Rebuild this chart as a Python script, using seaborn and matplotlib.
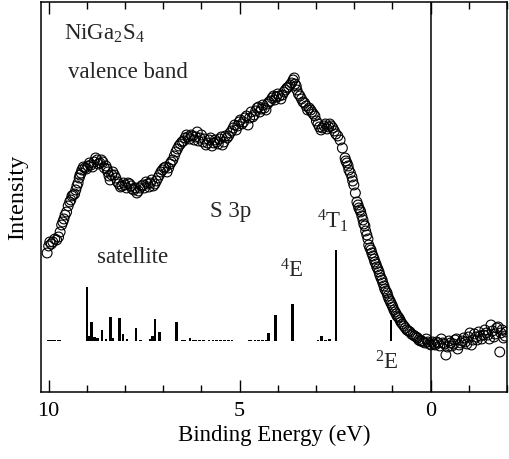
import numpy as np
import pandas as pd
import matplotlib
matplotlib.use("Agg")
import matplotlib.pyplot as plt
from matplotlib.ticker import MultipleLocator
import seaborn as sns

# measured valence band spectrum (binding energy in eV, intensity in arb. units)
energy = [10.04, 9.97, 9.89, 9.79, 9.70, 9.63, 9.57, 9.49, 9.42, 9.36, 9.29, 9.23,
          9.18, 9.13, 9.05, 8.97, 8.89, 8.81, 8.73, 8.66, 8.58, 8.50, 8.45, 8.39,
          8.32, 8.24, 8.16, 8.08, 8.00, 7.92, 7.84, 7.77, 7.69, 7.61, 7.53, 7.45,
          7.37, 7.30, 7.22, 7.14, 7.06, 6.98, 6.90, 6.82, 6.75, 6.67, 6.59, 6.51,
          6.43, 6.35, 6.27, 6.19, 6.11, 6.04, 5.96, 5.88, 5.80, 5.72, 5.64, 5.56,
          5.48, 5.41, 5.33, 5.25, 5.17, 5.09, 5.01, 4.94, 4.86, 4.78, 4.70, 4.62,
          4.54, 4.47, 4.39, 4.31, 4.23, 4.15, 4.08, 4.00, 3.92, 3.84, 3.76, 3.68,
          3.60, 3.55, 3.50, 3.42, 3.34, 3.26, 3.18, 3.11, 3.03, 2.95, 2.87, 2.79,
          2.71, 2.64, 2.56, 2.48, 2.37, 2.24, 2.19, 2.14, 2.06, 2.01, 1.93, 1.88,
          1.83, 1.77, 1.72, 1.67, 1.62, 1.56, 1.51, 1.46, 1.41, 1.35, 1.30, 1.25,
          1.20, 1.14, 1.09, 1.04, 0.99, 0.93, 0.88, 0.83, 0.78, 0.70, 0.62, 0.54,
          0.46, 0.38, 0.31, 0.23, 0.15, 0.07, -0.01, -0.09, -0.16, -0.24, -0.32, -0.40,
          -0.48, -0.56, -0.64, -0.71, -0.79, -0.87, -0.95, -1.03, -1.11, -1.19, -1.26, -1.34,
          -1.42, -1.50, -1.58, -1.66, -1.73, -1.81, -1.87, -1.95]
intensity = [0.88, 0.99, 0.99, 1.01, 1.09, 1.19, 1.26, 1.35, 1.41, 1.46, 1.51, 1.58,
             1.66, 1.71, 1.73, 1.75, 1.76, 1.79, 1.81, 1.78, 1.79, 1.75, 1.69, 1.61,
             1.69, 1.63, 1.57, 1.55, 1.56, 1.58, 1.55, 1.51, 1.48, 1.53, 1.56, 1.59,
             1.54, 1.61, 1.57, 1.63, 1.69, 1.73, 1.69, 1.77, 1.81, 1.89, 1.95, 1.99,
             2.03, 2.04, 2.06, 2.01, 2.09, 2.03, 1.99, 1.96, 2.01, 1.95, 2.01, 1.97,
             2.04, 1.99, 2.03, 2.08, 2.13, 2.11, 2.19, 2.17, 2.23, 2.16, 2.29, 2.26,
             2.33, 2.29, 2.36, 2.31, 2.39, 2.43, 2.41, 2.47, 2.42, 2.49, 2.53, 2.56,
             2.61, 2.57, 2.51, 2.45, 2.39, 2.35, 2.33, 2.29, 2.25, 2.17, 2.11, 2.15,
             2.12, 2.17, 2.13, 2.07, 2.01, 1.83, 1.78, 1.71, 1.64, 1.56, 1.39, 1.33,
             1.29, 1.21, 1.15, 1.06, 0.96, 0.91, 0.85, 0.79, 0.74, 0.69, 0.63, 0.58,
             0.52, 0.48, 0.42, 0.38, 0.34, 0.29, 0.25, 0.23, 0.19, 0.15, 0.11, 0.09,
             0.06, 0.04, 0.01, 0.00, -0.02, -0.01, -0.04, -0.03, -0.01, -0.05, -0.02, -0.14,
             0.00, -0.05, 0.01, -0.08, -0.02, 0.03, -0.03, 0.08, 0.01, 0.04, 0.09, 0.02,
             0.11, 0.06, 0.16, 0.04, 0.13, -0.11, 0.11, 0.05]

# second sweep, points lying between the first ones
energy_b = [10.00, 9.93, 9.84, 9.74, 9.66, 9.60, 9.53, 9.45, 9.39, 9.32, 9.26, 9.20,
            9.15, 9.09, 9.01, 8.93, 8.85, 8.77, 8.70, 8.62, 8.54, 8.47, 8.42, 8.35,
            8.28, 8.20, 8.12, 8.04, 7.96, 7.88, 7.81, 7.73, 7.65, 7.57, 7.49, 7.41,
            7.34, 7.26, 7.18, 7.10, 7.02, 6.94, 6.86, 6.79, 6.71, 6.63, 6.55, 6.47,
            6.39, 6.31, 6.23, 6.15, 6.08, 6.00, 5.92, 5.84, 5.76, 5.68, 5.60, 5.52,
            5.45, 5.37, 5.29, 5.21, 5.13, 5.05, 4.98, 4.90, 4.82, 4.74, 4.66, 4.58,
            4.50, 4.43, 4.35, 4.27, 4.19, 4.11, 4.04, 3.96, 3.88, 3.80, 3.72, 3.64,
            3.57, 3.52, 3.46, 3.38, 3.30, 3.22, 3.14, 3.07, 2.99, 2.91, 2.83, 2.75,
            2.67, 2.60, 2.52, 2.43, 2.31, 2.22, 2.16, 2.10, 2.04, 1.97, 1.90, 1.85,
            1.80, 1.75, 1.70, 1.64, 1.59, 1.54, 1.48, 1.43, 1.38, 1.33, 1.27, 1.22,
            1.17, 1.12, 1.06, 1.01, 0.96, 0.90, 0.85, 0.80, 0.74, 0.66, 0.58, 0.50,
            0.42, 0.34, 0.27, 0.19, 0.11, 0.03, -0.05, -0.12, -0.20, -0.28, -0.36, -0.44,
            -0.52, -0.60, -0.68, -0.75, -0.83, -0.91, -0.99, -1.07, -1.15, -1.22, -1.30, -1.38,
            -1.46, -1.54, -1.62, -1.69, -1.77, -1.84, -1.91, -1.98]
intensity_b = [0.95, 0.97, 1.02, 1.04, 1.16, 1.22, 1.29, 1.39, 1.45, 1.47, 1.55, 1.63,
               1.68, 1.74, 1.72, 1.78, 1.74, 1.83, 1.77, 1.81, 1.73, 1.72, 1.65, 1.66,
               1.66, 1.59, 1.54, 1.58, 1.53, 1.57, 1.52, 1.53, 1.50, 1.55, 1.53, 1.57,
               1.58, 1.55, 1.60, 1.66, 1.71, 1.74, 1.73, 1.79, 1.85, 1.92, 1.97, 2.00,
               2.06, 2.02, 2.05, 2.04, 2.00, 2.06, 2.02, 1.98, 2.03, 1.98, 1.99, 2.02,
               1.96, 2.05, 2.05, 2.10, 2.16, 2.15, 2.21, 2.19, 2.25, 2.23, 2.24, 2.30,
               2.34, 2.32, 2.33, 2.37, 2.40, 2.45, 2.44, 2.45, 2.46, 2.51, 2.54, 2.58,
               2.63, 2.55, 2.47, 2.42, 2.38, 2.31, 2.31, 2.27, 2.20, 2.14, 2.13, 2.17,
               2.14, 2.15, 2.10, 2.05, 1.93, 1.80, 1.75, 1.68, 1.60, 1.48, 1.36, 1.31,
               1.25, 1.17, 1.10, 1.02, 0.93, 0.88, 0.82, 0.77, 0.72, 0.66, 0.61, 0.55,
               0.50, 0.45, 0.40, 0.36, 0.31, 0.27, 0.24, 0.21, 0.17, 0.13, 0.10, 0.07,
               0.05, 0.03, 0.00, -0.01, 0.02, -0.03, -0.01, -0.04, -0.02, 0.02, -0.03, -0.06,
               -0.02, -0.03, 0.02, -0.04, 0.00, -0.01, 0.04, -0.04, 0.07, 0.01, 0.05, 0.06,
               0.08, 0.02, 0.10, 0.07, 0.14, 0.08, 0.03, 0.09]

# calculated multiplet lines (stick spectrum)
stick_energy = [10.00, 9.95, 9.90, 9.85, 9.75, 9.70,
                9.00, 8.95, 8.87, 8.80, 8.72, 8.60, 8.50, 8.38, 8.33, 8.15, 8.05, 7.95,
                7.71, 7.60, 7.35, 7.28, 7.22, 7.10, 6.65,
                6.50, 6.45, 6.30, 6.20, 6.15, 6.05, 5.95, 5.80, 5.70, 5.60, 5.50, 5.40,
                5.30, 5.20, 4.75, 4.70, 4.60, 4.50, 4.40, 4.30,
                4.25, 4.07, 3.62, 2.95, 2.85, 2.75, 2.65, 2.48, 1.04]
stick_height = [0.008, 0.008, 0.008, 0.008, 0.008, 0.008,
                0.54, 0.05, 0.19, 0.04, 0.03, 0.11, 0.02, 0.24, 0.03, 0.23, 0.07, 0.02,
                0.13, 0.01, 0.02, 0.05, 0.22, 0.09, 0.19,
                0.008, 0.008, 0.025, 0.008, 0.008, 0.008, 0.008, 0.008, 0.008, 0.008, 0.008, 0.008,
                0.008, 0.008, 0.008, 0.008, 0.008, 0.008, 0.008, 0.008,
                0.08, 0.26, 0.37, 0.008, 0.05, 0.008, 0.02, 0.91, 0.21]

df = pd.DataFrame({"E": energy + energy_b, "I": intensity + intensity_b})

sns.set_theme(style="ticks")
plt.rcParams["font.family"] = ["Liberation Serif", "DejaVu Serif"]
plt.rcParams["mathtext.fontset"] = "custom"
plt.rcParams["mathtext.rm"] = "Liberation Serif"
plt.rcParams["mathtext.it"] = "Liberation Serif:italic"

fig = plt.figure(figsize=(5.09, 4.59), dpi=100)
ax = fig.add_axes([0.0806, 0.146, 0.9155, 0.8497])

sns.scatterplot(data=df, x="E", y="I", ax=ax, marker="o", s=50,
                facecolors="none", edgecolor="black", linewidth=0.8, zorder=3)
ax.bar(stick_energy, stick_height, width=0.07, color="black", linewidth=0)
ax.axvline(0, color="black", lw=1.1)

ax.set_xlim(10.2, -2.0)
ax.set_ylim(-0.51, 3.39)
ax.xaxis.set_major_locator(MultipleLocator(5))
ax.xaxis.set_minor_locator(MultipleLocator(1))
ax.tick_params(axis="x", which="both", direction="in", top=True, labelsize=16,
               colors="black", pad=7)
ax.tick_params(axis="x", which="major", length=8.5, width=1)
ax.tick_params(axis="x", which="minor", length=4.7, width=1)
ax.set_yticks([])
for sp in ax.spines.values():
    sp.set_color("black")
    sp.set_linewidth(1.1)

ax.set_xlabel("Binding Energy (eV)", fontsize=16.5, color="black", labelpad=3)
ax.set_ylabel("Intensity", fontsize=17.5, color="black", labelpad=9)

fs = 16.5
ax.text(9.6, 3.01, "NiGa$_2$S$_4$", fontsize=fs, va="baseline")
ax.text(9.5, 2.63, "valence band", fontsize=fs, va="baseline")
ax.text(5.78, 1.24, "S 3p", fontsize=fs, va="baseline")
ax.text(2.97, 1.13, "$^4$T$_1$", fontsize=fs, va="baseline")
ax.text(8.74, 0.78, "satellite", fontsize=fs, va="baseline")
ax.text(3.95, 0.63, "$^4$E", fontsize=fs, va="baseline")
ax.text(1.45, -0.29, "$^2$E", fontsize=fs, va="baseline")

fig.savefig("out.png", dpi=100)
